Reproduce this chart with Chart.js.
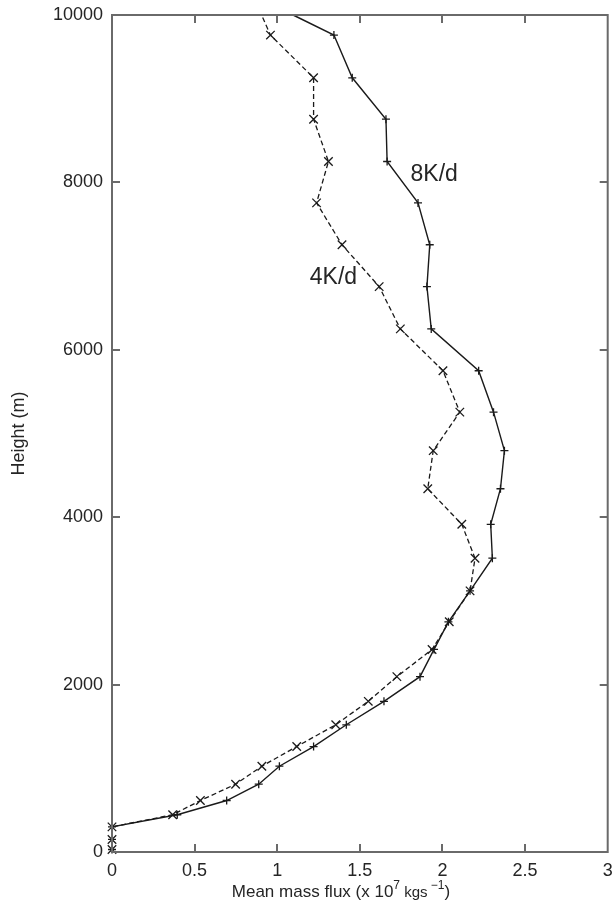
<!DOCTYPE html>
<html lang="en">
<head>
  <meta charset="UTF-8">
  <title>Mean mass flux profile</title>
  <style>
    body { margin: 0; background: #fff; }
    #wrap { width: 615px; height: 905px; }
  </style>
  <script src="https://cdn.jsdelivr.net/npm/chart.js"></script>
</head>
<body>
  <div id="wrap"><canvas id="myChart" width="615" height="905"></canvas></div>

  <script>
    // heights (m) of the model levels, shared by both runs
    const heights = [30, 150, 300, 445, 615, 810, 1025, 1260, 1520, 1800, 2095, 2420, 2750, 3120, 3510, 3915, 4340, 4795, 5255, 5750, 6250, 6755, 7255, 7755, 8250, 8755, 9250, 9760, 10000];
    // mean mass flux (x 10^7 kg/s), 8K/d run (solid, +)
    const flux8 = [0, 0, 0, 0.395, 0.694, 0.888, 1.013, 1.220, 1.418, 1.646, 1.864, 1.949, 2.036, 2.167, 2.302, 2.292, 2.351, 2.375, 2.309, 2.219, 1.932, 1.906, 1.923, 1.852, 1.665, 1.658, 1.454, 1.343, 1.096];
    // 4K/d run (dashed, x)
    const flux4 = [0, 0, 0, 0.367, 0.535, 0.748, 0.907, 1.118, 1.354, 1.551, 1.724, 1.937, 2.041, 2.167, 2.197, 2.117, 1.911, 1.944, 2.105, 2.003, 1.745, 1.617, 1.392, 1.238, 1.310, 1.220, 1.220, 0.959, 0.905];

    const xTicks = [0, 0.5, 1, 1.5, 2, 2.5, 3];
    const yTicks = [0, 2000, 4000, 6000, 8000, 10000];
    const curveLabels = [
      { text: '8K/d', x: 1.95, y: 8090 },
      { text: '4K/d', x: 1.34, y: 6860 }
    ];

    const FONT = "'Liberation Sans', Arial, sans-serif";
    const TEXT = '#252525';
    const AXIS = '#6a6a6a';

    function toPoints(xs) {
      return xs.map((v, i) => ({ x: v, y: heights[i] }));
    }
    // the line leaves the frame at 10000 m, no marker there
    function radiusFor(r) {
      return ctx => (ctx.dataIndex === heights.length - 1 ? 0 : r);
    }

    // frame, inward ticks, tick labels, titles and curve labels
    const framePlugin = {
      id: 'frame',
      afterDatasetsDraw(chart) {
        const { ctx, chartArea: a, scales: { x, y } } = chart;
        ctx.save();
        ctx.strokeStyle = AXIS;
        ctx.lineWidth = 2;
        ctx.strokeRect(a.left, a.top, a.right - a.left, a.bottom - a.top);

        ctx.beginPath();
        xTicks.forEach(v => {
          const px = Math.round(x.getPixelForValue(v));
          if (v === xTicks[0] || v === xTicks[xTicks.length - 1]) return;
          ctx.moveTo(px, a.bottom); ctx.lineTo(px, a.bottom - 8);
          ctx.moveTo(px, a.top); ctx.lineTo(px, a.top + 8);
        });
        yTicks.forEach(v => {
          const py = Math.round(y.getPixelForValue(v));
          if (v === yTicks[0] || v === yTicks[yTicks.length - 1]) return;
          ctx.moveTo(a.left, py); ctx.lineTo(a.left + 8, py);
          ctx.moveTo(a.right, py); ctx.lineTo(a.right - 8, py);
        });
        ctx.stroke();

        ctx.fillStyle = TEXT;
        ctx.font = '18px ' + FONT;
        ctx.textAlign = 'center';
        ctx.textBaseline = 'middle';
        xTicks.forEach(v => {
          ctx.fillText(String(v), x.getPixelForValue(v), a.bottom + 19);
        });
        ctx.textAlign = 'right';
        yTicks.forEach(v => {
          ctx.fillText(String(v), a.left - 9, y.getPixelForValue(v));
        });

        // y title
        ctx.save();
        ctx.translate(19, (a.top + a.bottom) / 2);
        ctx.rotate(-Math.PI / 2);
        ctx.textAlign = 'center';
        ctx.font = '18px ' + FONT;
        ctx.fillText('Height (m)', 0, 0);
        ctx.restore();

        // x title with superscripts
        const parts = [
          { t: 'Mean mass flux (x 10', f: '17px ', dy: 0 },
          { t: '7', f: '12px ', dy: -6 },
          { t: ' kgs', f: '15px ', dy: 1 },
          { t: ' \u22121', f: '12px ', dy: -6 },
          { t: ')', f: '17px ', dy: 0 }
        ];
        let total = 0;
        parts.forEach(p => { ctx.font = p.f + FONT; p.w = ctx.measureText(p.t).width; total += p.w; });
        let cx = 341 - total / 2;
        ctx.textAlign = 'left';
        parts.forEach(p => {
          ctx.font = p.f + FONT;
          ctx.fillText(p.t, cx, 892 + p.dy);
          cx += p.w;
        });

        // curve labels
        ctx.font = '23px ' + FONT;
        ctx.textAlign = 'center';
        curveLabels.forEach(l => {
          ctx.fillText(l.text, x.getPixelForValue(l.x), y.getPixelForValue(l.y));
        });
        ctx.restore();
      }
    };

    new Chart(document.getElementById('myChart'), {
      type: 'scatter',
      data: {
        datasets: [
          {
            label: '8K/d',
            data: toPoints(flux8),
            showLine: true,
            borderColor: '#1a1a1a',
            borderWidth: 1.4,
            pointStyle: 'cross',
            pointRadius: radiusFor(4),
            pointBorderColor: '#1a1a1a',
            pointBorderWidth: 1.3,
            pointBackgroundColor: 'transparent',
            clip: false
          },
          {
            label: '4K/d',
            data: toPoints(flux4),
            showLine: true,
            borderColor: '#1a1a1a',
            borderWidth: 1.3,
            borderDash: [5, 3],
            pointStyle: 'crossRot',
            pointRadius: radiusFor(6),
            pointBorderColor: '#1a1a1a',
            pointBorderWidth: 1.3,
            pointBackgroundColor: 'transparent',
            clip: false
          }
        ]
      },
      options: {
        responsive: false,
        animation: false,
        layout: { padding: { left: 112, right: 6, top: 15, bottom: 53 } },
        plugins: { legend: { display: false }, tooltip: { enabled: false } },
        scales: {
          x: { type: 'linear', min: 0, max: 3, display: false },
          y: { type: 'linear', min: 0, max: 10000, display: false }
        }
      },
      plugins: [framePlugin]
    });
  </script>
</body>
</html>
